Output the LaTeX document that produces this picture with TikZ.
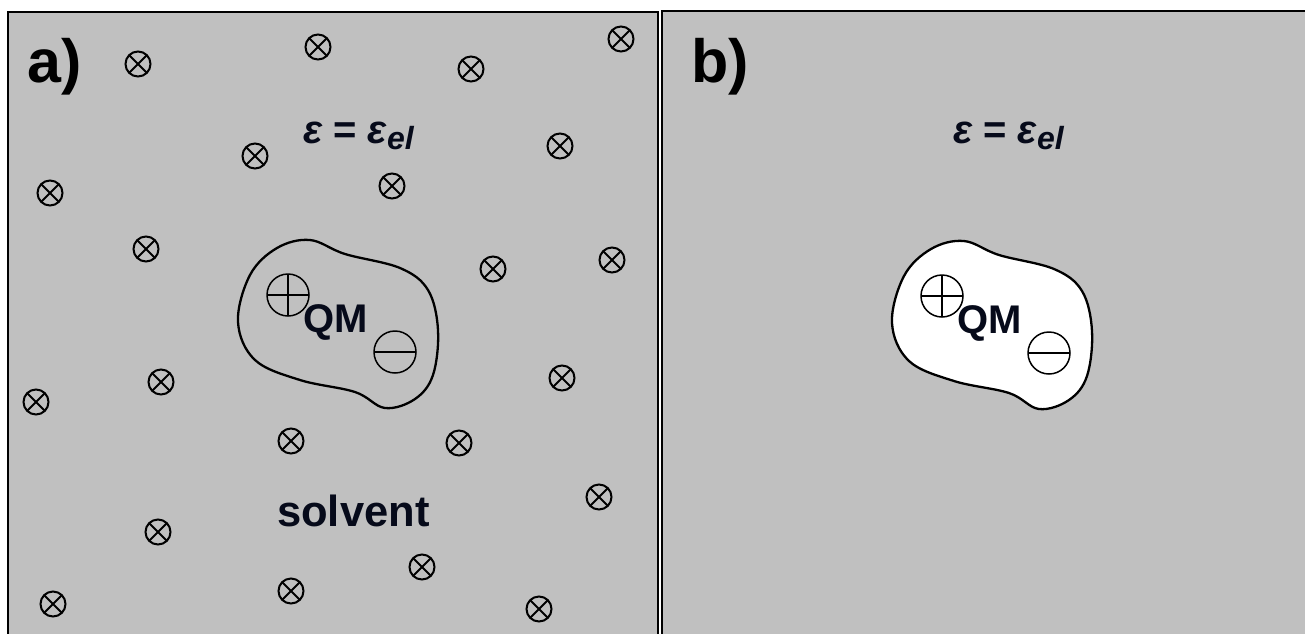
\documentclass[tikz,border=0pt]{standalone}
\usepackage{fontspec}
\setmainfont{Liberation Sans}
\begin{document}
\begin{tikzpicture}[x=1pt,y=-1pt,
  panel/.style={fill=panelgray, draw=black, line width=2pt},
  blob/.style={draw=black, line width=2.3pt},
  ox/.style={circle, draw=black, line width=2pt, minimum size=25pt, inner sep=0pt,
    path picture={\draw[line width=2pt] (path picture bounding box.north west)--(path picture bounding box.south east)
      (path picture bounding box.north east)--(path picture bounding box.south west);}},
  pluscirc/.style={circle, draw=black, line width=1.5pt, minimum size=42pt, inner sep=0pt,
    path picture={\draw[line width=1.5pt] (path picture bounding box.west)--(path picture bounding box.east)
      (path picture bounding box.north)--(path picture bounding box.south);}},
  minuscirc/.style={circle, draw=black, line width=1.5pt, minimum size=42pt, inner sep=0pt,
    path picture={\draw[line width=1.5pt] (path picture bounding box.west)--(path picture bounding box.east);}},
  lbl/.style={inner sep=0pt, text=black, font=\fontsize{61}{63}\selectfont\bfseries},
  qm/.style={inner sep=0pt, text=navy, font=\fontsize{40}{42}\selectfont\bfseries},
  eps/.style={inner sep=0pt, text=navy, font=\fontsize{40}{42}\selectfont\bfseries}
]
\definecolor{panelgray}{RGB}{192,192,192}
\definecolor{navy}{RGB}{6,10,26}
\useasboundingbox (0,0) rectangle (1305,633);
\begin{scope}
\clip (0,0) rectangle (1305,633);
\fill[white] (0,0) rectangle (1305,633);
\path[panel] (8,12) rectangle (658,645);
\path[panel] (662,11) rectangle (1315,645);

% panel a
\node[lbl, anchor=base west] (la) at (27,82) {a)};
\node[eps, anchor=base west] (ea) at (303,143) {\itshape ε\upshape\ =\ \itshape ε\raisebox{-6pt}{\fontsize{32}{33}\selectfont el}};
\draw[blob] plot[smooth cycle, tension=0.6] coordinates {(238,322) (250,275) (277,248) (310,240) (345,254) (400,268) (428,290) (438,330) (433,375) (415,399) (385,408) (355,392) (300,380) (255,360)};
\node[pluscirc] (pa) at (288,295) {};
\node[minuscirc] (ma) at (395,352) {};
\node[qm] (qa) at (336,322) {QM};
\node[qm, anchor=base west, font=\fontsize{43.5}{45}\selectfont\bfseries] (sol) at (277,526) {solvent};

\foreach \x/\y [count=\i] in {138/64, 318/47, 255/156, 50/193, 146/249, 621/39, 471/69, 560/146, 392/186, 493/269, 612/260, 36/402, 161/382, 291/441, 158/532, 53/604, 291/591, 562/378, 459/443, 599/497, 422/567, 539/609}
  \node[ox] (o\i) at (\x,\y) {};

% panel b
\node[lbl, anchor=base west] (lb) at (691,82) {b)};
\node[eps, anchor=base west] (eb) at (953,143) {\itshape ε\upshape\ =\ \itshape ε\raisebox{-6pt}{\fontsize{32}{33}\selectfont el}};
\begin{scope}[shift={(654,1)}]
\draw[blob, fill=white] plot[smooth cycle, tension=0.6] coordinates {(238,322) (250,275) (277,248) (310,240) (345,254) (400,268) (428,290) (438,330) (433,375) (415,399) (385,408) (355,392) (300,380) (255,360)};
\node[pluscirc] (pb) at (288,295) {};
\node[minuscirc] (mb) at (395,352) {};
\node[qm] (qb) at (336,322) {QM};
\end{scope}
\end{scope}
\end{tikzpicture}
\end{document}
